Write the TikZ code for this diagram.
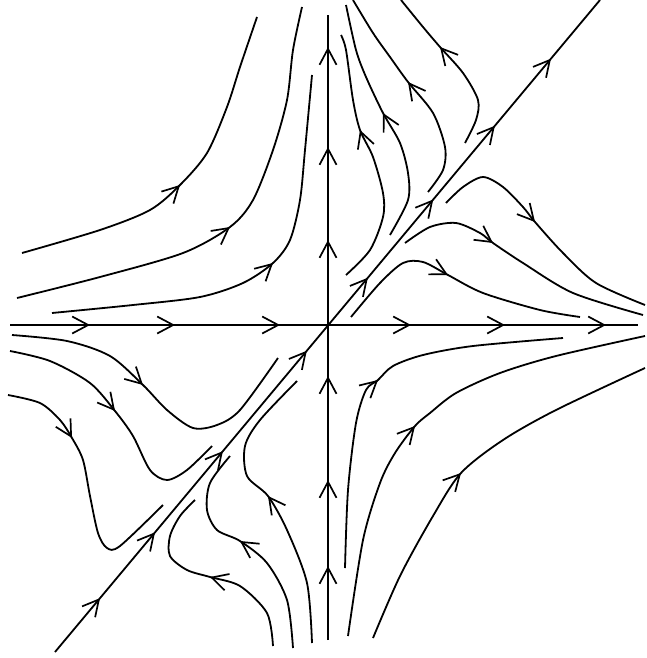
\documentclass[tikz,border=0pt]{standalone}
\usetikzlibrary{arrows.meta,calc}
\newcommand\flowarrow[3]{\draw[curve,arr] ($#2+0.03*#1-0.03*#3$) -- #2;}
\begin{document}
\begin{tikzpicture}[x=1pt,y=-1pt,
  curve/.style={line width=1.8pt, line join=round},
  arr/.style={-{Straight Barb[length=16pt,width=17pt,line width=1.7pt]}}]
\useasboundingbox (0,0) rectangle (646,658);
% axes and diagonal
\coordinate (H1) at (10,325); \coordinate (H2) at (638,325);
\coordinate (V1) at (328,640); \coordinate (V2) at (328,15);
\coordinate (D1) at (55,652); \coordinate (D2) at (600,0);
\draw[curve] (H1) -- (H2);
\draw[curve] (V1) -- (V2);
\draw[curve] (D1) -- (D2);
\foreach \x in {90,175,280,411,505,606}
  \draw[curve,arr] (\x-2,325) -- (\x,325);
\foreach \y in {47,147,240,376,480,566}
  \draw[curve,arr] (328,\y+2) -- (328,\y);
\foreach \t [evaluate=\t as \s using \t-0.004] in {0.0826,0.1835,0.308,0.462,0.574,0.694,0.807,0.910}
  \draw[curve,arr] ($(D1)!\s!(D2)$) -- ($(D1)!\t!(D2)$);
% upper left
\draw[curve] plot[smooth] coordinates {(22,253) (100,230) (150,210) (180,185) (207,153) (227,107) (240,67) (257,17)};
\flowarrow{(150,210)}{(180,185)}{(207,153)}
\draw[curve] plot[smooth] coordinates {(17,298) (100,277) (183,253) (230,227) (253,200) (273,150) (287,100) (293,50) (302,7)};
\flowarrow{(183,253)}{(230,227)}{(253,200)}
\draw[curve] plot[smooth] coordinates {(52,313) (133,305) (200,297) (243,283) (273,263) (290,240) (300,200) (305,150) (312,75)};
\flowarrow{(243,283)}{(273,263)}{(290,240)}
% upper right, above diagonal
\draw[curve] plot[smooth] coordinates {(346,275) (370,250) (383,217) (383,193) (373,157) (360,130) (353,100) (346,50) (341,35)};
\flowarrow{(373,157)}{(360,130)}{(353,100)}
\draw[curve] plot[smooth] coordinates {(390,235) (408,200) (408,173) (400,143) (383,113) (366,77) (356,50) (346,5)};
\flowarrow{(400,143)}{(383,113)}{(366,77)}
\draw[curve] plot[smooth] coordinates {(428,192) (443,170) (445,147) (433,113) (408,82) (390,57) (373,33) (353,0)};
\flowarrow{(433,113)}{(408,82)}{(390,57)}
\draw[curve] plot[smooth] coordinates {(465,143) (476,120) (478,100) (463,73) (440,47) (423,27) (401,0)};
\flowarrow{(463,73)}{(440,47)}{(423,27)}
% upper right, below diagonal
\draw[curve] plot[smooth] coordinates {(446,203) (463,187) (483,177) (503,187) (523,207) (535,222) (563,253) (596,283) (645,305)};
\flowarrow{(523,207)}{(535,222)}{(563,253)}
\draw[curve] plot[smooth] coordinates {(405,243) (430,227) (456,223) (480,233) (493,243) (523,263) (573,293) (643,315)};
\flowarrow{(480,233)}{(493,243)}{(523,263)}
\draw[curve] plot[smooth] coordinates {(351,317) (380,283) (403,263) (423,262) (448,275) (483,293) (540,310) (580,317)};
\flowarrow{(423,262)}{(448,275)}{(483,293)}
% lower right
\draw[curve] plot[smooth] coordinates {(345,568) (348,490) (356,423) (366,390) (378,380) (393,366) (423,355) (473,346) (563,338)};
\flowarrow{(366,390)}{(378,380)}{(393,366)}
\draw[curve] plot[smooth] coordinates {(348,636) (363,540) (380,483) (395,453) (415,426) (430,413) (456,393) (500,373) (556,356) (645,336)};
\flowarrow{(395,453)}{(415,426)}{(430,413)}
\draw[curve] plot[smooth] coordinates {(373,638) (400,576) (433,516) (461,473) (503,440) (556,410) (645,368)};
\flowarrow{(433,516)}{(461,473)}{(503,440)}
% lower left, above diagonal
\draw[curve] plot[smooth] coordinates {(12,335) (67,341) (110,356) (143,385) (167,410) (193,428) (217,425) (240,410) (278,358)};
\flowarrow{(110,356)}{(143,385)}{(167,410)}
\draw[curve] plot[smooth] coordinates {(10,351) (50,361) (90,383) (115,411) (133,436) (150,470) (167,480) (187,470) (212,446)};
\flowarrow{(90,383)}{(115,411)}{(133,436)}
\draw[curve] plot[smooth] coordinates {(8,395) (40,403) (60,420) (72,438) (83,460) (90,496) (98,533) (107,548) (120,546) (163,505)};
\flowarrow{(60,420)}{(72,438)}{(83,460)}
% lower left, below diagonal
\draw[curve] plot[smooth] coordinates {(273,646) (267,613) (240,586) (210,577) (187,570) (170,556) (170,536) (180,516) (195,500)};
\flowarrow{(240,586)}{(210,577)}{(187,570)}
\draw[curve] plot[smooth] coordinates {(293,648) (287,600) (267,563) (240,541) (217,530) (207,510) (210,483) (230,456)};
\flowarrow{(267,563)}{(240,541)}{(217,530)}
\draw[curve] plot[smooth] coordinates {(312,643) (307,583) (287,530) (268,496) (247,476) (245,446) (260,420) (297,381)};
\flowarrow{(287,530)}{(268,496)}{(247,476)}
\end{tikzpicture}
\end{document}
